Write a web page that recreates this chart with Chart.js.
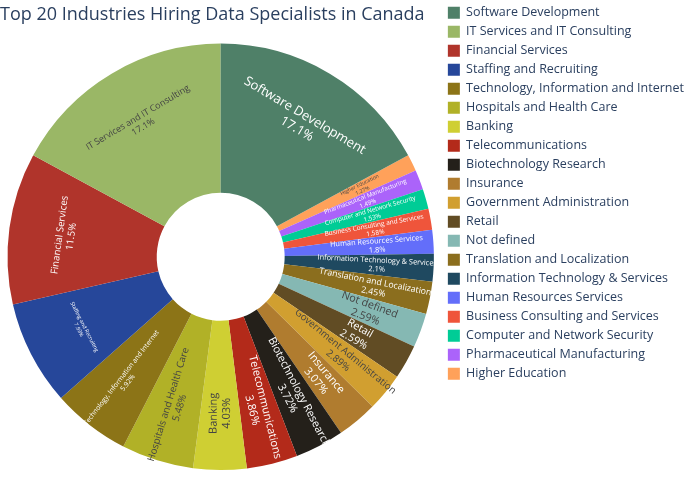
<!DOCTYPE html>
<html>
<head>
<script src="https://cdn.jsdelivr.net/npm/chart.js@4"></script>
<style>
  body { margin: 0; background: #fff; }
  #wrap { width: 700px; height: 500px; }
</style>
</head>
<body>
<div id="wrap"><canvas id="chart" width="700" height="500"></canvas></div>
<script>
const industries = [
  "Software Development", "IT Services and IT Consulting", "Financial Services",
  "Staffing and Recruiting", "Technology, Information and Internet",
  "Hospitals and Health Care", "Banking", "Telecommunications",
  "Biotechnology Research", "Insurance", "Government Administration", "Retail",
  "Not defined", "Translation and Localization", "Information Technology & Services",
  "Human Resources Services", "Business Consulting and Services",
  "Computer and Network Security", "Pharmaceutical Manufacturing", "Higher Education"
];
const shares = [17.1, 17.1, 11.5, 7.93, 5.92, 5.48, 4.03, 3.86, 3.72, 3.07, 2.89,
  2.59, 2.59, 2.45, 2.1, 1.8, 1.58, 1.53, 1.49, 1.27];
const labelsText = ["17.1%", "17.1%", "11.5%", "7.93%", "5.92%", "5.48%", "4.03%",
  "3.86%", "3.72%", "3.07%", "2.89%", "2.59%", "2.59%", "2.45%", "2.1%", "1.8%",
  "1.58%", "1.53%", "1.49%", "1.27%"];
const colors = ["#4f8068", "#9ab766", "#b0342b", "#26479a", "#8c7417", "#b1b127",
  "#cfcf33", "#b32a1a", "#24201a", "#b07c2f", "#d19f30", "#614c24", "#85b8b3",
  "#8b6e1e", "#1f4960", "#636efa", "#ef553b", "#00cc96", "#ab63fa", "#ffa15a"];

// pie runs counterclockwise in the original, so feed it reversed and draw clockwise
const revLabels = industries.slice().reverse();
const revShares = shares.slice().reverse();
const revColors = colors.slice().reverse();
const revText = labelsText.slice().reverse();
const total = shares.reduce((a, b) => a + b, 0);

function isDark(hex) {
  const r = parseInt(hex.substr(1, 2), 16), g = parseInt(hex.substr(3, 2), 16), b = parseInt(hex.substr(5, 2), 16);
  return (0.299 * r + 0.587 * g + 0.114 * b) < 140;
}

// slice labels, drawn inside each arc
const sliceText = {
  id: "sliceText",
  afterDatasetsDraw(chart) {
    const ctx = chart.ctx;
    chart.getDatasetMeta(0).data.forEach((arc, i) => {
      const p = arc.getProps(["x", "y", "startAngle", "endAngle", "innerRadius", "outerRadius"]);
      const mid = (p.startAngle + p.endAngle) / 2;
      const span = p.endAngle - p.startAngle;
      const r = p.innerRadius + (p.outerRadius - p.innerRadius) * 0.62;
      const cx = p.x + Math.cos(mid) * r, cy = p.y + Math.sin(mid) * r;
      const radialLen = p.outerRadius - p.innerRadius - 12;
      let size, rot;
      if (span > 0.45) {
        rot = mid + Math.PI / 2;
        size = Math.min(13, (span * r * 0.9) / (revLabels[i].length * 0.58));
      } else {
        rot = mid;
        size = Math.min(11, Math.max(4.5, radialLen / (revLabels[i].length * 0.56)), span * r * 0.42);
      }
      rot = ((rot % (2 * Math.PI)) + 2 * Math.PI) % (2 * Math.PI);
      if (rot > Math.PI / 2 && rot < 3 * Math.PI / 2) rot += Math.PI;
      ctx.save();
      ctx.translate(cx, cy);
      ctx.rotate(rot);
      ctx.fillStyle = isDark(revColors[i]) ? "#ffffff" : "#444444";
      ctx.textAlign = "center";
      ctx.textBaseline = "middle";
      ctx.font = size + "px 'Open Sans', sans-serif";
      ctx.fillText(revLabels[i], 0, -size * 0.6);
      ctx.fillText(revText[i], 0, size * 0.6);
      ctx.restore();
    });
  }
};

new Chart(document.getElementById("chart"), {
  type: "doughnut",
  data: {
    labels: revLabels,
    datasets: [{
      data: revShares,
      backgroundColor: revColors,
      borderWidth: 0
    }]
  },
  options: {
    responsive: false,
    animation: false,
    cutout: "30%",
    rotation: 360 * shares[0] / total,
    layout: { padding: { left: 0, right: 6, top: 0, bottom: 30 } },
    plugins: {
      title: {
        display: true,
        text: "Top 20 Industries Hiring Data Specialists in Canada",
        align: "start",
        color: "#2a3f5f",
        font: { family: "'Open Sans', sans-serif", size: 18, weight: "normal" },
        padding: { top: 4, bottom: 18 }
      },
      legend: {
        position: "right",
        align: "start",
        labels: {
          boxWidth: 12,
          boxHeight: 12,
          padding: 6.5,
          color: "#2a3f5f",
          font: { family: "'Open Sans', sans-serif", size: 12.5 },
          sort: (a, b) => b.index - a.index
        }
      },
      tooltip: { enabled: false }
    }
  },
  plugins: [sliceText]
});
</script>
</body>
</html>
